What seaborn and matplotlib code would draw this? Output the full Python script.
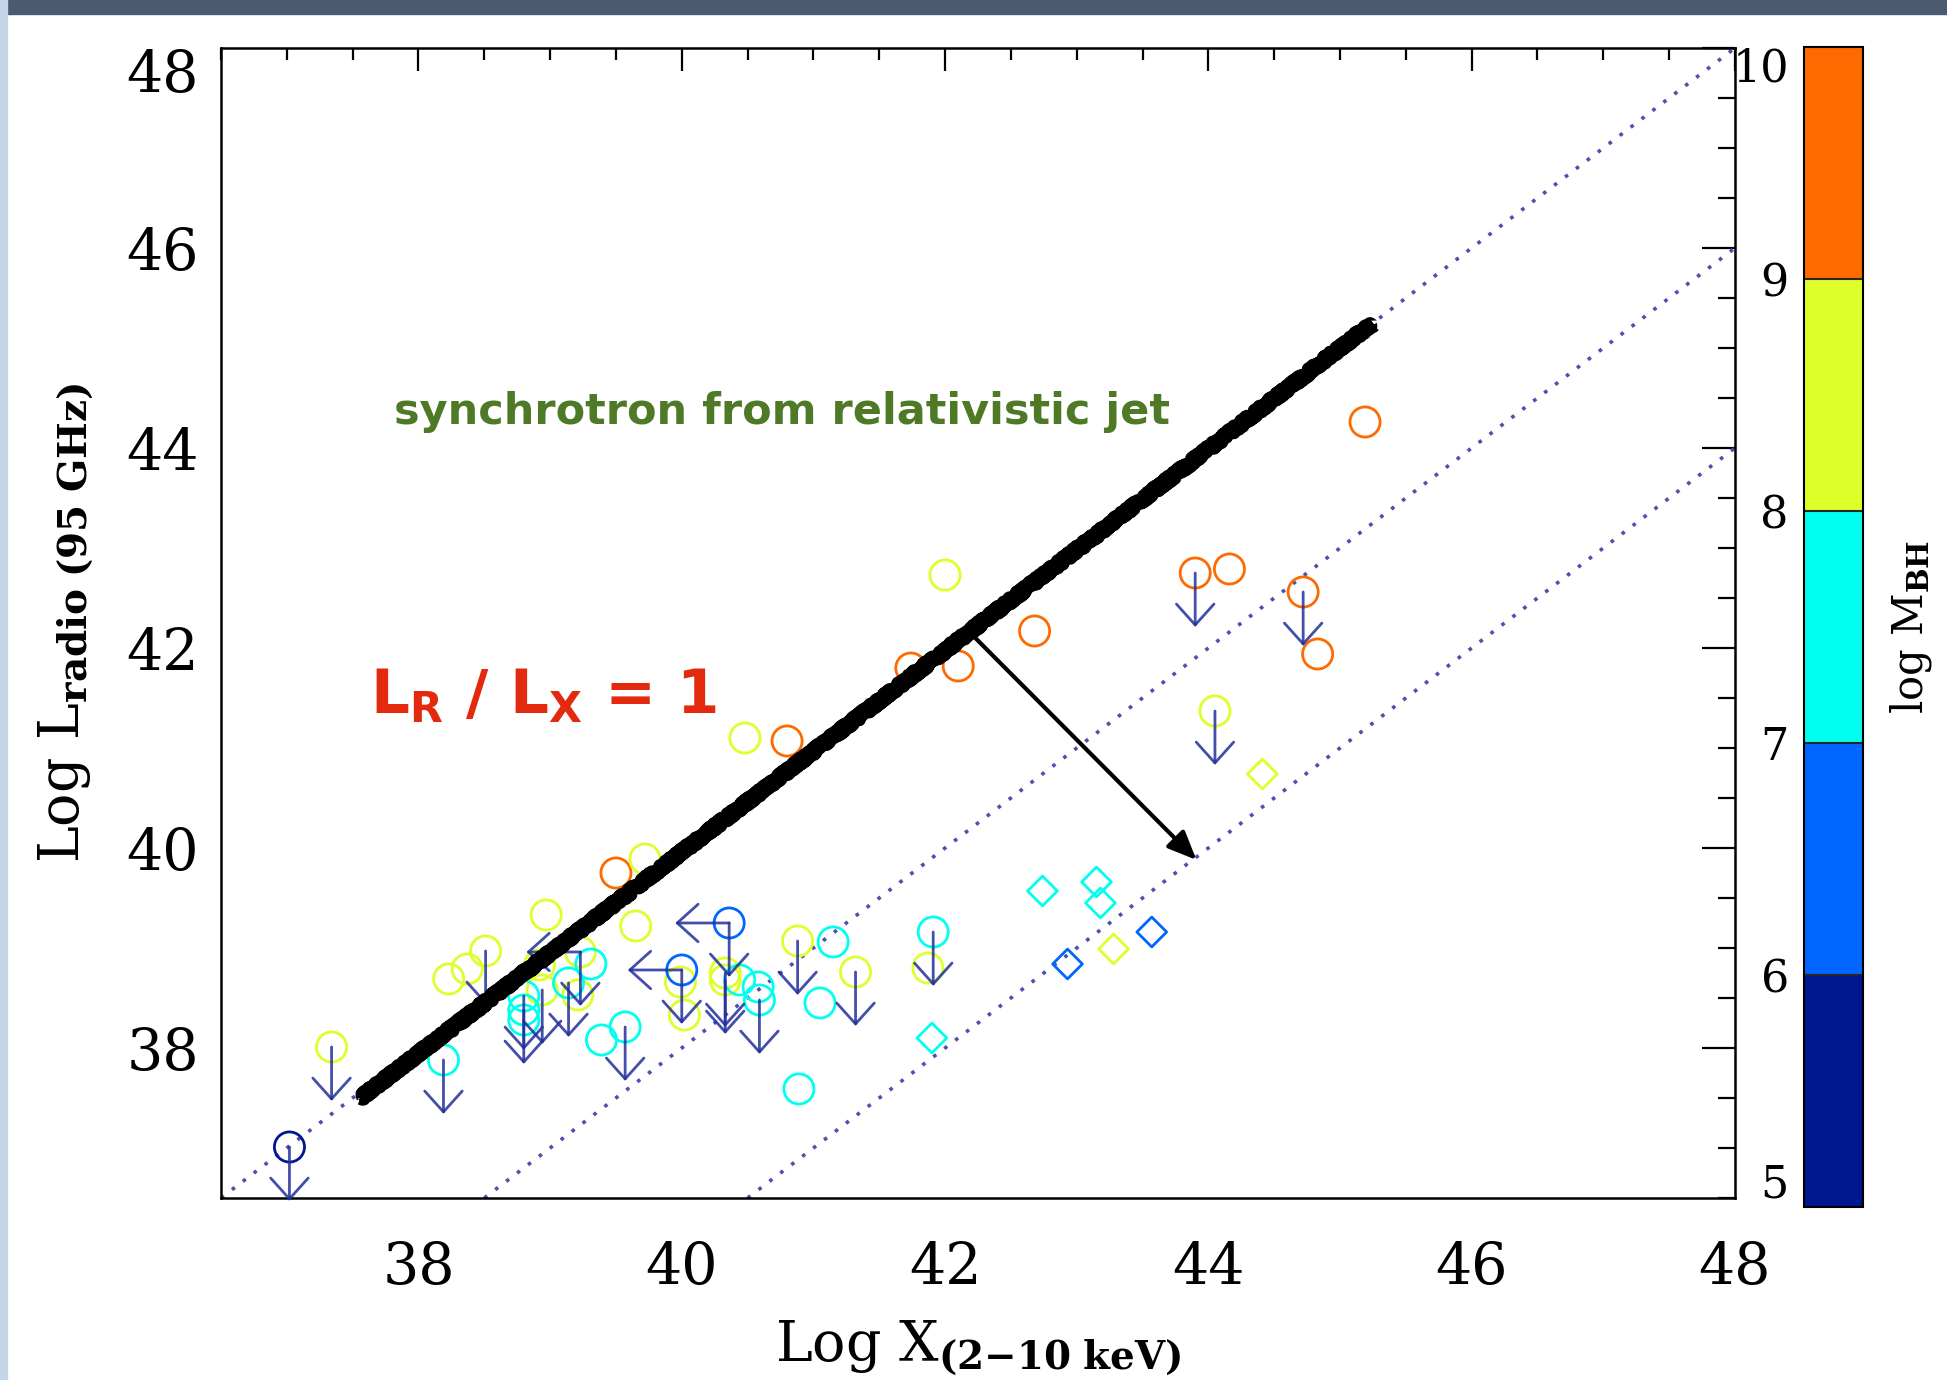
import matplotlib
matplotlib.use('Agg')
import matplotlib.pyplot as plt
from matplotlib.colors import ListedColormap, BoundaryNorm
from matplotlib.cm import ScalarMappable
from matplotlib.patches import Rectangle
from matplotlib.ticker import MultipleLocator
import pandas as pd
import seaborn as sns

# log L(2-10 keV), log L(95 GHz), log M_BH (bin centre), marker, upper limits
lx = [45.19, 43.90, 44.16, 44.72, 44.83, 42.68, 42.10, 41.74, 40.80, 39.50,
      42.00, 44.05, 44.41, 40.48, 39.72, 39.65, 38.97, 38.51, 38.37, 38.23,
      37.34, 43.28, 40.88, 41.32, 41.87, 39.23, 38.92, 38.94, 39.21, 39.99,
      40.02, 40.33, 40.33,
      41.91, 41.90, 42.74, 43.15, 43.18, 39.57, 39.39, 38.19, 38.80, 38.80,
      38.80, 39.14, 39.31, 40.44, 40.58, 40.59, 41.15, 41.05, 40.89,
      40.36, 40.00, 43.57, 42.93,
      37.02]
lr = [44.26, 42.75, 42.79, 42.56, 41.94, 42.17, 41.82, 41.80, 41.07, 39.75,
      42.73, 41.37, 40.74, 41.10, 39.89, 39.22, 39.33, 38.97, 38.79, 38.69,
      38.01, 38.99, 39.07, 38.76, 38.80, 38.96, 38.83, 38.58, 38.53, 38.66,
      38.33, 38.75, 38.68,
      39.16, 38.10, 39.57, 39.66, 39.45, 38.21, 38.08, 37.88, 38.52, 38.38,
      38.28, 38.65, 38.84, 38.68, 38.61, 38.48, 39.06, 38.45, 37.59,
      39.25, 38.78, 39.16, 38.84,
      37.01]
mbh = [9.5] * 10 + [8.5] * 23 + [7.5] * 19 + [6.5] * 4 + [5.5]
shape = ['o'] * 12 + ['D'] + ['o'] * 8 + ['D'] + ['o'] * 11 + \
        ['o', 'D', 'D', 'D', 'D'] + ['o'] * 14 + ['o', 'o', 'D', 'D'] + ['o']
ul_radio = [0, 1, 0, 1, 0, 0, 0, 0, 0, 0,
            0, 1, 0, 0, 0, 0, 0, 1, 0, 0,
            1, 0, 1, 1, 0, 1, 0, 1, 0, 0,
            0, 1, 1,
            1, 0, 0, 0, 0, 1, 0, 1, 1, 1,
            0, 1, 0, 0, 0, 1, 0, 0, 0,
            1, 1, 0, 0,
            1]
ul_xray = [0] * 25 + [1] + [0] * 26 + [1, 1, 0, 0] + [0]

mass_edges = [5, 6, 7, 8, 9, 10]
mass_mid = [5.5, 6.5, 7.5, 8.5, 9.5]
mass_colors = ['#00188F', '#0066FF', '#00FFEE', '#DDFF2A', '#FF6A00']
ratio_offsets = [0, -2, -4]          # log(L_R / L_X)
jet_x = [37.56, 45.25]
jet_y = [37.50, 45.25]
shift_start = (42.20, 42.14)
shift_end = (43.91, 39.88)

sns.set_theme(style='white')
plt.rcParams['font.family'] = ['DejaVu Serif']
plt.rcParams['mathtext.fontset'] = 'dejavuserif'
for key in ('text.color', 'axes.labelcolor', 'xtick.color', 'ytick.color'):
    plt.rcParams[key] = 'black'

fig = plt.figure(figsize=(19.47, 13.80), dpi=100)
fig.patches.append(Rectangle((0, 1 - 14 / 1380), 1, 14 / 1380, transform=fig.transFigure,
                             color='#4a5b70', zorder=0))
fig.patches.append(Rectangle((0, 0), 7 / 1947, 1, transform=fig.transFigure,
                             color='#c3d5e6', zorder=0))

ax = fig.add_axes([0.1135, 0.1319, 0.7776, 0.8333])

for off in ratio_offsets:
    ax.axline((40, 40 + off), slope=1, color='#4F4FB0', lw=2.6,
              ls=(0, (1, 2.8)), zorder=1)

df = pd.DataFrame(dict(lx=lx, lr=lr, mbh=mbh, shape=shape))
palette = dict(zip(mass_mid, mass_colors))
for mk, s in [('o', 470), ('D', 230)]:
    sub = df[df['shape'] == mk]
    sns.scatterplot(data=sub, x='lx', y='lr', hue='mbh', palette=palette,
                    marker=mk, s=s, legend=False, ax=ax, zorder=3)
    pts = ax.collections[-1]
    pts.set_edgecolors(pts.get_facecolors())
    pts.set_facecolors('none')
    pts.set_linewidths(2.0)

# upper limits
arrow_kw = dict(arrowstyle='->,head_length=0.5,head_width=0.45', color='#22309A',
                lw=2.0, alpha=0.85, mutation_scale=30, shrinkA=0, shrinkB=0)
for x, y, ur, ux in zip(lx, lr, ul_radio, ul_xray):
    if ur:
        ax.annotate('', xy=(x, y - 0.54), xytext=(x, y), arrowprops=arrow_kw,
                    annotation_clip=False, zorder=4)
    if ux:
        ax.annotate('', xy=(x - 0.41, y), xytext=(x, y), arrowprops=arrow_kw,
                    annotation_clip=False, zorder=4)

# hand-drawn LR/LX = 1 line
ax.plot(jet_x, jet_y, color='black', lw=7, solid_capstyle='butt', zorder=5)
jet, = ax.plot(jet_x, jet_y, color='black', lw=10, solid_capstyle='butt', zorder=5)
jet.set_sketch_params(scale=2.5, length=2, randomness=4)

ax.annotate('', xy=shift_end, xytext=shift_start,
            arrowprops=dict(arrowstyle='-|>,head_length=0.7,head_width=0.3',
                            color='black', lw=3, mutation_scale=25,
                            shrinkA=0, shrinkB=0), zorder=5)

ax.text(40.76, 44.36, 'synchrotron from relativistic jet', color='#4E7A27',
        fontsize=31, fontweight='bold', family='DejaVu Sans', ha='center', va='center')
ax.text(37.63, 41.51, r'L$_\mathbf{R}$ / L$_\mathbf{X}$ = 1', color='#E3290E',
        fontsize=44, fontweight='bold', family='DejaVu Sans', math_fontfamily='dejavusans',
        ha='left', va='center')

ax.set_xlim(36.5, 48)
ax.set_ylim(36.5, 48)
for axis in (ax.xaxis, ax.yaxis):
    axis.set_major_locator(MultipleLocator(2))
    axis.set_minor_locator(MultipleLocator(0.5))
ax.tick_params(which='both', direction='in', top=True, right=True, width=1.6,
               color='black', labelcolor='black', labelsize=41)
ax.tick_params(axis='x', which='major', length=16.5, pad=30)
ax.tick_params(axis='x', which='minor', length=8.5)
ax.tick_params(axis='y', which='major', length=24, pad=16)
ax.tick_params(axis='y', which='minor', length=12)
for sp in ax.spines.values():
    sp.set_linewidth(1.8)
    sp.set_color('black')

ax.set_xlabel(r'Log X$_{\mathbf{(2{-}10\ keV)}}$', fontsize=40, labelpad=16)
ax.set_ylabel(r'Log L$_{\mathbf{radio\ (95\ GHz)}}$', fontsize=40, labelpad=22)

cax = fig.add_axes([0.9266, 0.1254, 0.0303, 0.8406])
cmap = ListedColormap(mass_colors)
norm = BoundaryNorm(mass_edges, cmap.N)
cb = fig.colorbar(ScalarMappable(norm=norm, cmap=cmap), cax=cax, ticks=mass_edges,
                  drawedges=True)
cax.yaxis.set_ticks_position('left')
cax.yaxis.set_label_position('right')
cax.tick_params(length=0, labelsize=32, pad=11, labelcolor='black')
cb.outline.set_linewidth(1.5)
cb.outline.set_edgecolor('black')
cb.dividers.set_linewidth(1.5)
cb.set_label(r'log M$_{\mathbf{BH}}$', fontsize=30, labelpad=18, color='black')

fig.canvas.draw()
for lab in ax.get_yticklabels():
    if lab.get_text() == '48':
        lab.set_verticalalignment('top')
for lab in cax.get_yticklabels():
    if lab.get_text() == '10':
        lab.set_verticalalignment('top')
    elif lab.get_text() == '5':
        lab.set_verticalalignment('bottom')

fig.savefig('out.png', dpi=100)
